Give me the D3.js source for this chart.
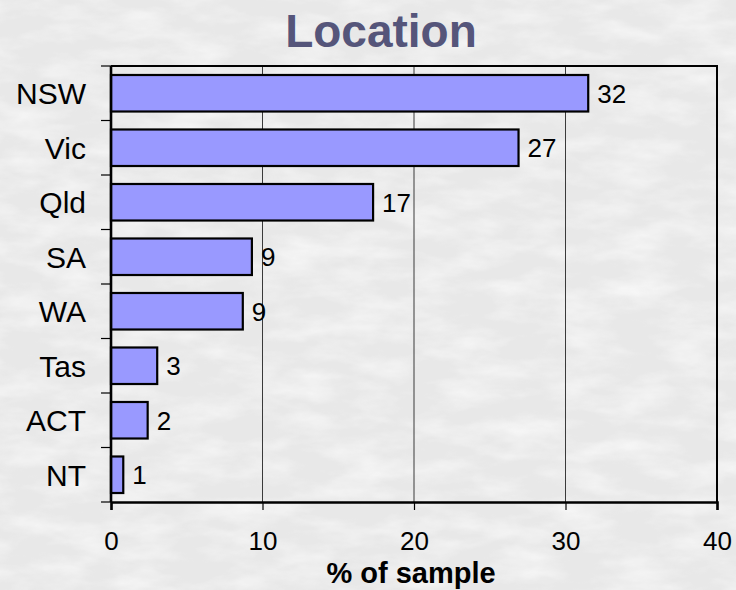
<!DOCTYPE html>
<html>
<head>
<meta charset="utf-8">
<script src="https://cdn.jsdelivr.net/npm/d3@7"></script>
<style>
  html, body { margin: 0; padding: 0; background: #ececec; }
  svg { display: block; font-family: Arial, "Liberation Sans", sans-serif; }
</style>
</head>
<body>
<svg id="chart" width="736" height="590"></svg>
<script>
// Share of sample by state / territory (%)
const categories = ["NSW", "Vic", "Qld", "SA", "WA", "Tas", "ACT", "NT"];
const values = [31.5, 26.9, 17.3, 9.3, 8.7, 3.05, 2.42, 0.81];
const xTicks = [0, 10, 20, 30, 40];
const titleText = "Location";
const xAxisTitle = "% of sample";

const W = 736, H = 590;
const margin = { left: 111, right: 19, top: 66, bottom: 88 };
const innerW = W - margin.left - margin.right;
const innerH = H - margin.top - margin.bottom;

const svg = d3.select("#chart");

// Light mottled grey paper background
const defs = svg.append("defs");
const f = defs.append("filter").attr("id", "paper")
  .attr("x", 0).attr("y", 0).attr("width", "100%").attr("height", "100%");
f.append("feTurbulence").attr("type", "fractalNoise")
  .attr("baseFrequency", "0.018 0.05").attr("numOctaves", 4).attr("seed", 3)
  .attr("result", "noise");
f.append("feColorMatrix").attr("in", "noise").attr("type", "matrix")
  .attr("values", "0 0 0 0 1  0 0 0 0 1  0 0 0 0 1  0 0 0 -1.6 1.0");
svg.append("rect").attr("width", W).attr("height", H).attr("fill", "#e8e8e8");
svg.append("rect").attr("width", W).attr("height", H).attr("filter", "url(#paper)").attr("opacity", 0.7);

const x = d3.scaleLinear().domain([0, 40]).range([0, innerW]);
const y = d3.scaleBand().domain(categories).range([0, innerH]).paddingInner(0.33).paddingOuter(0.165);
const yBand = d3.scaleBand().domain(categories).range([0, innerH]);

const g = svg.append("g").attr("transform", `translate(${margin.left},${margin.top})`);

// Vertical gridlines
g.append("g").selectAll("line").data(xTicks.filter(t => t > 0 && t < 40)).join("line")
  .attr("x1", d => x(d)).attr("x2", d => x(d))
  .attr("y1", 0).attr("y2", innerH)
  .attr("stroke", "#3a3a3a").attr("stroke-width", 1);

// Top and right frame
g.append("path")
  .attr("d", `M0,0H${innerW}V${innerH}`)
  .attr("fill", "none").attr("stroke", "#000").attr("stroke-width", 2);

// Bars
g.append("g").selectAll("rect").data(categories).join("rect")
  .attr("x", 0)
  .attr("y", d => y(d))
  .attr("width", (d, i) => x(values[i]))
  .attr("height", y.bandwidth())
  .attr("fill", "#9999ff")
  .attr("stroke", "#000").attr("stroke-width", 2.2);

// Value labels
g.append("g").selectAll("text").data(categories).join("text")
  .attr("x", (d, i) => x(values[i]) + 9)
  .attr("y", d => y(d) + y.bandwidth() / 2)
  .attr("dy", "0.36em")
  .attr("font-size", 26)
  .attr("fill", "#000")
  .text((d, i) => d3.format(".0f")(values[i]));

// X axis
const xAxis = g.append("g").attr("transform", `translate(0,${innerH})`)
  .call(d3.axisBottom(x).tickValues(xTicks).tickSize(8).tickPadding(22));
xAxis.select(".domain").attr("stroke", "#000").attr("stroke-width", 2.6);
xAxis.selectAll(".tick line").attr("stroke", "#000").attr("stroke-width", 1.2);
xAxis.selectAll(".tick text").attr("font-size", 26).attr("fill", "#000")
  .attr("font-family", "Arial, 'Liberation Sans', sans-serif");

// Y axis: ticks between categories, labels centred in bands
const yAxisG = g.append("g");
yAxisG.append("line").attr("x1", 0).attr("x2", 0).attr("y1", 0).attr("y2", innerH)
  .attr("stroke", "#000").attr("stroke-width", 2.6);
const bounds = categories.map(c => yBand(c)).concat([innerH]);
yAxisG.selectAll(".ytick").data(bounds).join("line").attr("class", "ytick")
  .attr("x1", -10).attr("x2", 0)
  .attr("y1", d => d).attr("y2", d => d)
  .attr("stroke", "#000").attr("stroke-width", 1.2);
yAxisG.selectAll(".ylab").data(categories).join("text").attr("class", "ylab")
  .attr("x", -25)
  .attr("y", d => yBand(d) + yBand.bandwidth() / 2)
  .attr("dy", "0.36em")
  .attr("text-anchor", "end")
  .attr("font-size", 30)
  .attr("fill", "#000")
  .text(d => d);

// Titles
svg.append("text")
  .attr("x", margin.left + innerW / 2 - 33).attr("y", 47)
  .attr("text-anchor", "middle")
  .attr("font-size", 46).attr("font-weight", "bold")
  .attr("fill", "#55557a")
  .text(titleText);

svg.append("text")
  .attr("x", margin.left + x(20) - 3).attr("y", 583)
  .attr("text-anchor", "middle")
  .attr("font-size", 29).attr("font-weight", "bold")
  .attr("fill", "#000")
  .text(xAxisTitle);
</script>
</body>
</html>
